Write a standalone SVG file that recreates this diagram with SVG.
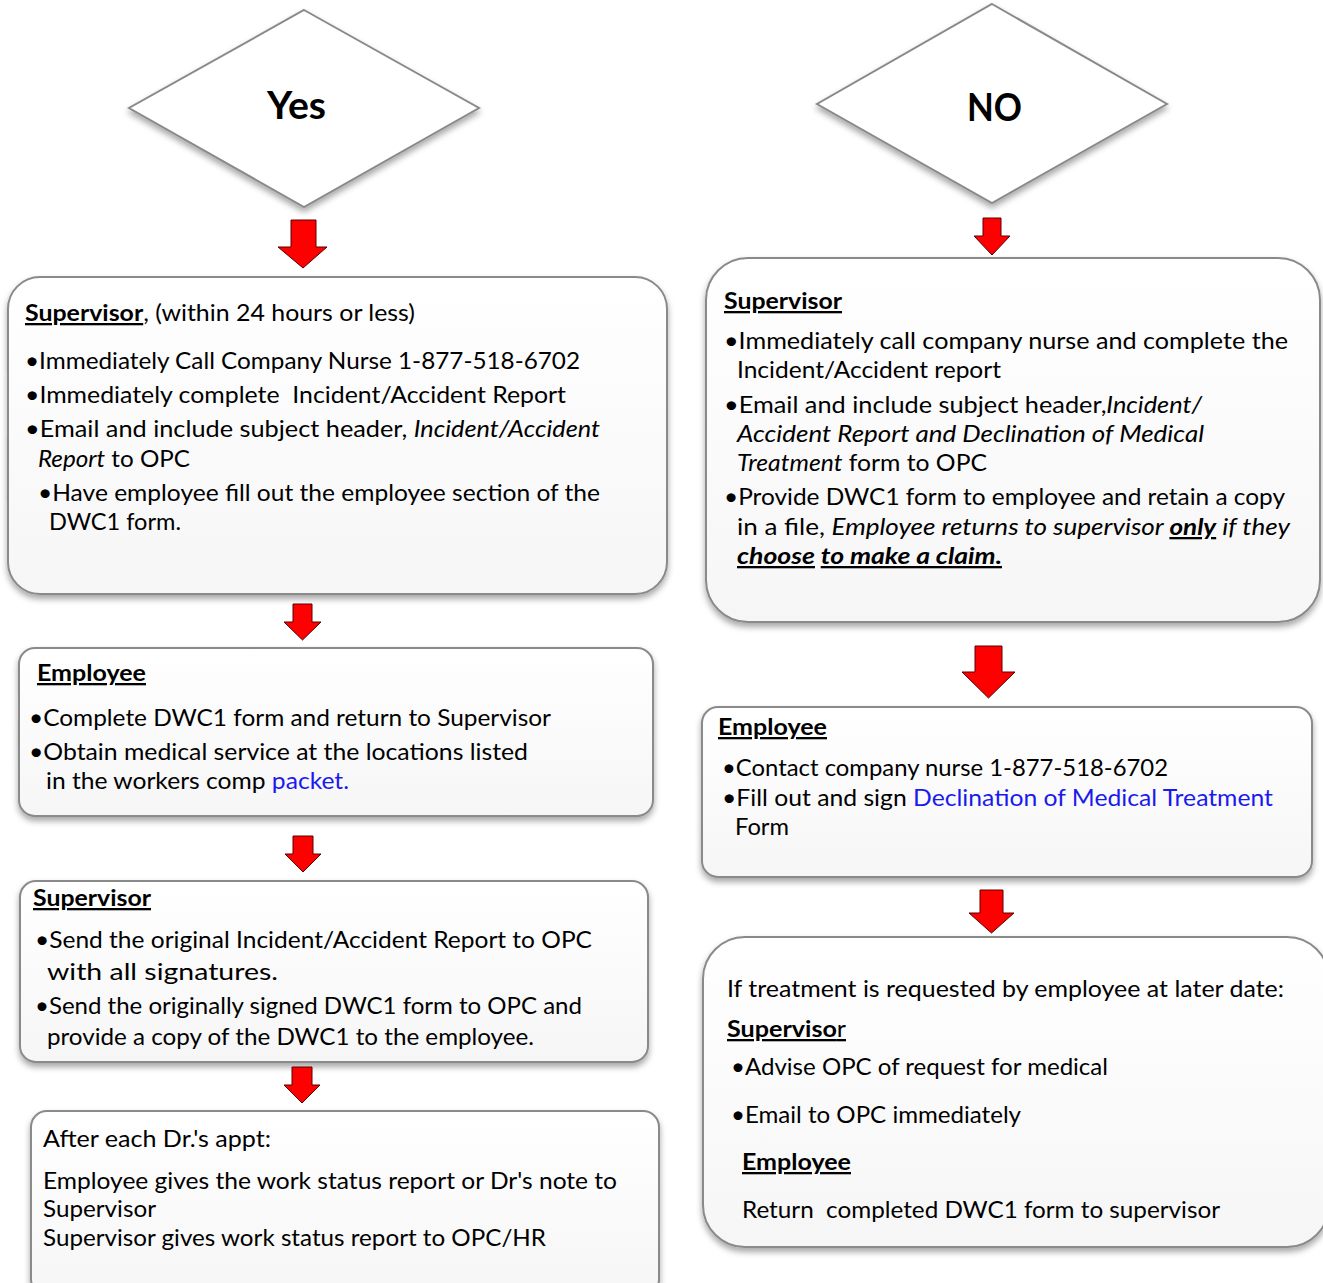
<svg xmlns="http://www.w3.org/2000/svg" width="1323" height="1283" viewBox="0 0 1323 1283">
<style>
text{font-family:Lato,"Liberation Sans",sans-serif;font-size:23px;fill:#000}
.b{font-weight:bold}
.i{font-style:italic}
.u{text-decoration:underline}
.blue{fill:#1a1aee}
.big{font-size:38px;font-weight:bold}
.box{fill:url(#g);stroke:#8a8a8a;stroke-width:2;filter:url(#sh)}
.dia{fill:#fff;stroke:#8a8a8a;stroke-width:2;filter:url(#sh)}
.arr{fill:#ff0000;stroke:#5a0000;stroke-width:1}
</style>
<defs>
<linearGradient id="g" x1="0" y1="0" x2="0" y2="1"><stop offset="0" stop-color="#ffffff"/><stop offset="1" stop-color="#f6f6f6"/></linearGradient>
<filter id="sh" x="-10%" y="-10%" width="120%" height="130%"><feDropShadow dx="0" dy="4" stdDeviation="3" flood-color="#000" flood-opacity="0.35"/></filter>
</defs>
<rect width="1323" height="1283" fill="#fff"/>

<g id="yes">
<polygon class="dia" points="304,10 479,108 304,207 129,108"/>
<text class="big" x="267" y="119" textLength="59" lengthAdjust="spacingAndGlyphs">Yes</text>
</g>
<g id="no">
<polygon class="dia" points="992,4 1167,104 992,203 817,104"/>
<text class="big" x="967" y="121" textLength="55" lengthAdjust="spacingAndGlyphs">NO</text>
</g>

<g id="sup-yes">
<rect class="box" x="8" y="277" width="659" height="317" rx="32"/>
<text x="25" y="321" textLength="390" lengthAdjust="spacingAndGlyphs"><tspan class="b u">Supervisor</tspan>, (within 24 hours or less)</text>
<text x="25" y="369" textLength="555" lengthAdjust="spacingAndGlyphs">•Immediately Call Company Nurse 1-877-518-6702</text>
<text x="25" y="403" textLength="541" lengthAdjust="spacingAndGlyphs" xml:space="preserve">•Immediately complete  Incident/Accident Report</text>
<text x="25" y="437" textLength="575" lengthAdjust="spacingAndGlyphs">•Email and include subject header, <tspan class="i">Incident/Accident</tspan></text>
<text x="38" y="467" textLength="152" lengthAdjust="spacingAndGlyphs"><tspan class="i">Report</tspan> to OPC</text>
<text x="38" y="501" textLength="562" lengthAdjust="spacingAndGlyphs">•Have employee fill out the employee section of the</text>
<text x="49" y="530" textLength="132" lengthAdjust="spacingAndGlyphs">DWC1 form.</text>
</g>

<g id="emp-yes">
<rect class="box" x="19" y="648" width="634" height="168" rx="16"/>
<text class="b u" x="37" y="681" textLength="109" lengthAdjust="spacingAndGlyphs">Employee</text>
<text x="29" y="726" textLength="522" lengthAdjust="spacingAndGlyphs">•Complete DWC1 form and return to Supervisor</text>
<text x="29" y="760" textLength="499" lengthAdjust="spacingAndGlyphs">•Obtain medical service at the locations listed</text>
<text x="46" y="789" textLength="303" lengthAdjust="spacingAndGlyphs">in the workers comp <tspan class="blue">packet.</tspan></text>
</g>

<g id="sup-yes-2">
<rect class="box" x="20" y="881" width="628" height="181" rx="16"/>
<text class="b u" x="33" y="906" textLength="118" lengthAdjust="spacingAndGlyphs">Supervisor</text>
<text x="35" y="948" textLength="557" lengthAdjust="spacingAndGlyphs">•Send the original Incident/Accident Report to OPC</text>
<text x="47" y="980" textLength="231" lengthAdjust="spacingAndGlyphs">with all signatures.</text>
<text x="35" y="1014" textLength="547" lengthAdjust="spacingAndGlyphs">•Send the originally signed DWC1 form to OPC and</text>
<text x="47" y="1045" textLength="487" lengthAdjust="spacingAndGlyphs">provide a copy of the DWC1 to the employee.</text>
</g>

<g id="after-appt">
<rect class="box" x="31" y="1111" width="628" height="185" rx="16"/>
<text x="43" y="1147" textLength="228" lengthAdjust="spacingAndGlyphs">After each Dr.'s appt:</text>
<text x="43" y="1189" textLength="574" lengthAdjust="spacingAndGlyphs">Employee gives the work status report or Dr's note to</text>
<text x="43" y="1217" textLength="113" lengthAdjust="spacingAndGlyphs">Supervisor</text>
<text x="43" y="1246" textLength="503" lengthAdjust="spacingAndGlyphs">Supervisor gives work status report to OPC/HR</text>
</g>

<g id="sup-no">
<rect class="box" x="706" y="258" width="614" height="364" rx="42"/>
<text class="b u" x="724" y="309" textLength="118" lengthAdjust="spacingAndGlyphs">Supervisor</text>
<text x="724" y="349" textLength="564" lengthAdjust="spacingAndGlyphs">•Immediately call company nurse and complete the</text>
<text x="737" y="378" textLength="264" lengthAdjust="spacingAndGlyphs">Incident/Accident report</text>
<text x="724" y="413" textLength="478" lengthAdjust="spacingAndGlyphs">•Email and include subject header,<tspan class="i">Incident/</tspan></text>
<text class="i" x="737" y="442" textLength="467" lengthAdjust="spacingAndGlyphs">Accident Report and Declination of Medical</text>
<text x="737" y="471" textLength="250" lengthAdjust="spacingAndGlyphs"><tspan class="i">Treatment</tspan> form to OPC</text>
<text x="724" y="505" textLength="561" lengthAdjust="spacingAndGlyphs">•Provide DWC1 form to employee and retain a copy</text>
<text x="737" y="535" textLength="553" lengthAdjust="spacingAndGlyphs">in a file, <tspan class="i">Employee returns to supervisor </tspan><tspan class="i b u">only</tspan><tspan class="i"> if they</tspan></text>
<text class="i b" x="737" y="564" textLength="265" lengthAdjust="spacingAndGlyphs"><tspan class="u">choose</tspan> <tspan class="u">to make a claim.</tspan></text>
</g>

<g id="emp-no">
<rect class="box" x="702" y="707" width="610" height="170" rx="16"/>
<text class="b u" x="718" y="735" textLength="109" lengthAdjust="spacingAndGlyphs">Employee</text>
<text x="722" y="776" textLength="446" lengthAdjust="spacingAndGlyphs">•Contact company nurse 1-877-518-6702</text>
<text x="722" y="806" textLength="551" lengthAdjust="spacingAndGlyphs">•Fill out and sign <tspan class="blue">Declination of Medical Treatment</tspan></text>
<text x="735" y="835" textLength="54" lengthAdjust="spacingAndGlyphs">Form</text>
</g>

<g id="later-date">
<rect class="box" x="703" y="937" width="626" height="310" rx="42"/>
<text x="727" y="997" textLength="557" lengthAdjust="spacingAndGlyphs">If treatment is requested by employee at later date:</text>
<text class="u" x="727" y="1037" textLength="119" lengthAdjust="spacingAndGlyphs"><tspan class="b">Superviso</tspan>r</text>
<text x="731" y="1075" textLength="377" lengthAdjust="spacingAndGlyphs">•Advise OPC of request for medical</text>
<text x="731" y="1123" textLength="290" lengthAdjust="spacingAndGlyphs">•Email to OPC immediately</text>
<text class="b u" x="742" y="1170" textLength="109" lengthAdjust="spacingAndGlyphs">Employee</text>
<text x="742" y="1218" textLength="478" lengthAdjust="spacingAndGlyphs" xml:space="preserve">Return  completed DWC1 form to supervisor</text>
</g>

<g id="connectors">
<polygon class="arr" points="291,220 316,220 316,247 327,247 303,268 278,247 291,247"/>
<polygon class="arr" points="983,218 1001,218 1001,236 1010,236 992,255 974,236 983,236"/>
<polygon class="arr" points="293,604 312,604 312,622 321,622 302.5,640 284,622 293,622"/>
<polygon class="arr" points="293,836 313,836 313,854 321,854 303,872 285,854 293,854"/>
<polygon class="arr" points="292,1067 312,1067 312,1085 320,1085 302,1103 284,1085 292,1085"/>
<polygon class="arr" points="975,646 1002,646 1002,672 1015,672 988.5,698 962,672 975,672"/>
<polygon class="arr" points="980,890 1003,890 1003,913 1014,913 991.5,933 969,913 980,913"/>
</g>
</svg>
